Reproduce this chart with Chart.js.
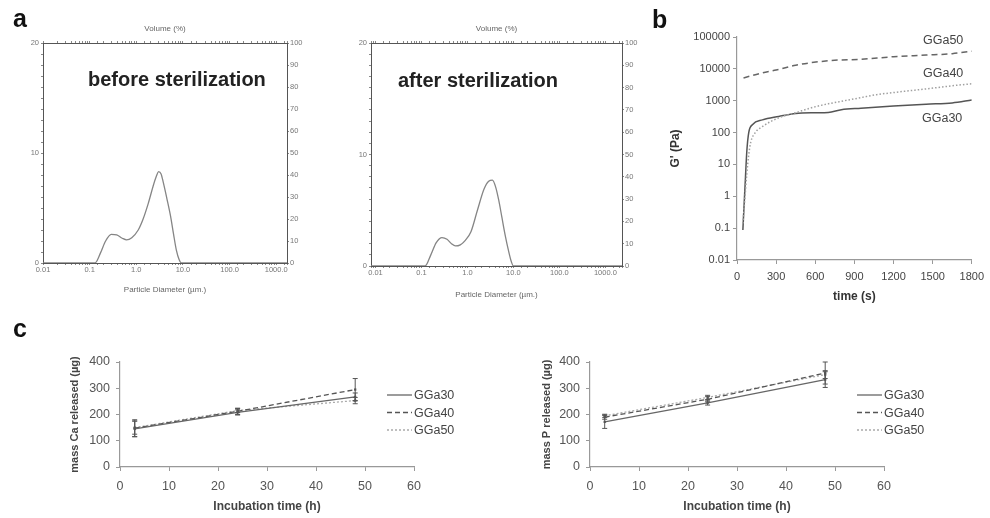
<!DOCTYPE html>
<html lang="en">
<head>
<meta charset="UTF-8">
<title>Gellan gum / glass composite - characterisation</title>
<script src="https://cdn.jsdelivr.net/npm/chart.js@4.4.0/dist/chart.umd.min.js"></script>
<style>
  body { margin: 0; background: #fff; font-family: 'Liberation Sans', Arial, sans-serif; }
  #fig { position: relative; width: 990px; height: 518px; overflow: hidden; background: #fff; }
  #fig canvas { position: absolute; }
  .lbl { position: absolute; white-space: nowrap; line-height: 1; }
  .panel { font-weight: bold; font-size: 25px; color: #111; }
  .note { font-weight: bold; font-size: 20px; color: #222; }
  .curve { font-size: 12.5px; color: #444; }
</style>
</head>
<body>
<div id="fig">
  <canvas id="psdBefore" width="330" height="310" style="left:0;top:0"></canvas>
  <canvas id="psdAfter" width="330" height="310" style="left:330px;top:0"></canvas>
  <canvas id="rheo" width="330" height="310" style="left:660px;top:0"></canvas>
  <canvas id="caRelease" width="480" height="188" style="left:0;top:330px"></canvas>
  <canvas id="pRelease" width="510" height="188" style="left:480px;top:330px"></canvas>

  <div class="lbl panel" style="left:13px;top:6px">a</div>
  <div class="lbl panel" style="left:652px;top:7px">b</div>
  <div class="lbl panel" style="left:13px;top:316px">c</div>
  <div class="lbl note" style="left:88px;top:69px">before sterilization</div>
  <div class="lbl note" style="left:398px;top:70px">after sterilization</div>
  <div class="lbl curve" style="left:923px;top:34px">GGa50</div>
  <div class="lbl curve" style="left:923px;top:67px">GGa40</div>
  <div class="lbl curve" style="left:922px;top:112px">GGa30</div>
</div>
<script>
// ---- panel a: particle size distribution ----
const diamBefore = [0.01, 0.05, 0.1, 0.13, 0.17, 0.22, 0.29, 0.38, 0.5, 0.62, 0.8, 1.1, 1.4, 1.8, 2.3, 2.7, 3.0, 3.4, 3.8, 4.5, 5.4, 6.3, 7.2, 8.3, 9.3, 20, 100, 1000, 1700];
const volBefore  = [0, 0, 0, 0, 0.9, 2.0, 2.6, 2.55, 2.25, 2.1, 2.3, 3.0, 4.0, 5.4, 7.0, 7.9, 8.3, 8.1, 7.3, 5.9, 4.3, 2.6, 1.2, 0.3, 0, 0, 0, 0, 0];
const diamAfter  = [0.008, 0.05, 0.1, 0.12, 0.16, 0.21, 0.28, 0.36, 0.45, 0.55, 0.7, 0.9, 1.2, 1.65, 2.3, 2.9, 3.5, 4.1, 4.8, 5.6, 6.6, 7.8, 9, 10, 20, 100, 1000, 2300];
const volAfter   = [0, 0, 0, 0, 1.0, 2.1, 2.55, 2.4, 2.0, 1.8, 1.9, 2.3, 3.1, 5.0, 6.9, 7.6, 7.7, 7.1, 5.9, 4.4, 2.8, 1.4, 0.4, 0, 0, 0, 0, 0];

// ---- panel b: G' vs time ----
const timeGGa30 = [45, 55, 65, 75, 90, 120, 195, 320, 450, 600, 700, 800, 950, 1200, 1450, 1650, 1800];
const gGGa30    = [0.087, 0.6, 4, 25, 100, 180, 250, 320, 400, 420, 430, 520, 580, 680, 780, 850, 1050];
const timeGGa40 = [45, 60, 75, 90, 105, 140, 195, 320, 450, 570, 700, 825, 950, 1070, 1200, 1320, 1450, 1575, 1700, 1800];
const gGGa40    = [0.14, 0.8, 5, 20, 49, 100, 155, 290, 420, 600, 800, 1000, 1250, 1550, 1800, 2050, 2350, 2700, 3100, 3400];
const timeGGa50 = [50, 195, 300, 450, 700, 945, 1200, 1450, 1650, 1800];
const gGGa50    = [5200, 7500, 9200, 13000, 18000, 20000, 24000, 27000, 30000, 36000];
const gTicks = [0.01, 0.1, 1, 10, 100, 1000, 10000, 100000];

// ---- panel c: ion release ----
const releaseTimes = [3, 24, 48];
const caGGa30 = [145, 208, 267];
const caGGa40 = [148, 212, 295];
const caGGa50 = [150, 215, 253];
const caErr30 = [30, 10, 15];
const caErr40 = [32, 12, 42];
const caErr50 = [25, 8, 12];
const pGGa30 = [172, 244, 333];
const pGGa40 = [190, 258, 358];
const pGGa50 = [195, 265, 352];
const pErr30 = [25, 8, 30];
const pErr40 = [8, 10, 42];
const pErr50 = [6, 8, 15];

const FONT = "'Liberation Sans', Arial, sans-serif";
const fixWidth = w => s => { s.width = w; };
const fixHeight = h => s => { s.height = h; };
const toPoints = (xs, ys) => xs.map((x, i) => ({ x: x, y: ys[i] }));
const isDecade = v => Math.abs(Math.log10(v) - Math.round(Math.log10(v))) < 1e-6;

function psdChart(id, diam, vol, box) {
  const small = { size: 7.5, family: FONT };
  const tickGrid = { drawOnChartArea: false, tickLength: 2, color: '#888' };
  const edge = { color: '#555', width: 1 };
  return new Chart(document.getElementById(id), {
    type: 'line',
    data: { datasets: [{ data: toPoints(diam, vol), borderColor: '#858585', borderWidth: 1.3,
      pointRadius: 0, cubicInterpolationMode: 'monotone', fill: false }] },
    options: {
      responsive: false, animation: false,
      layout: { padding: 0 },
      plugins: { legend: { display: false }, tooltip: { enabled: false } },
      scales: {
        x: { type: 'logarithmic', position: 'bottom', min: box.min, max: box.max,
          afterFit: fixHeight(box.bottom), border: edge, grid: tickGrid,
          ticks: { autoSkip: false, maxRotation: 0, padding: 0, font: small, color: '#777',
            callback: v => isDecade(v) && v >= 0.01 ? (v >= 1 ? v.toFixed(1) : String(v)) : '' },
          title: { display: true, text: 'Particle Diameter (µm.)', color: '#666',
            font: { size: 8, family: FONT }, padding: { top: 0, bottom: box.titlePad } } },
        x2: { type: 'logarithmic', position: 'top', min: box.min, max: box.max,
          afterFit: fixHeight(box.top), border: edge, grid: tickGrid,
          ticks: { display: false, autoSkip: false },
          title: { display: true, text: 'Volume (%)', color: '#666',
            font: { size: 8, family: FONT }, padding: { top: 24, bottom: 0 } } },
        y: { position: 'left', min: 0, max: 20, afterFit: fixWidth(box.left), border: edge, grid: tickGrid,
          ticks: { stepSize: 1, autoSkip: false, padding: 2, font: small, color: '#777',
            callback: v => v % 10 === 0 ? v : '' } },
        y2: { position: 'right', min: 0, max: 100, afterFit: fixWidth(box.right), border: edge, grid: tickGrid,
          ticks: { stepSize: 10, padding: 1, font: small, color: '#777' } }
      }
    }
  });
}

psdChart('psdBefore', diamBefore, volBefore, { min: 0.01, max: 1700, left: 43, right: 43, top: 43, bottom: 47, titlePad: 15 });
psdChart('psdAfter', diamAfter, volAfter, { min: 0.008, max: 2300, left: 41, right: 38, top: 43, bottom: 44, titlePad: 10 });

// ---- panel b ----
const axisTicks = { color: '#444', font: { size: 11, family: FONT } };
const axisGrid = { drawOnChartArea: false, tickLength: 4, color: '#999' };
const axisBorder = { color: '#999', width: 1.2 };

new Chart(document.getElementById('rheo'), {
  type: 'line',
  data: { datasets: [
    { label: 'GGa50', data: toPoints(timeGGa50, gGGa50), borderColor: '#666', borderWidth: 1.5, borderDash: [6, 4], pointRadius: 0, cubicInterpolationMode: 'monotone' },
    { label: 'GGa40', data: toPoints(timeGGa40, gGGa40), borderColor: '#a0a0a0', borderWidth: 1.5, borderDash: [1.5, 2], pointRadius: 0, cubicInterpolationMode: 'monotone' },
    { label: 'GGa30', data: toPoints(timeGGa30, gGGa30), borderColor: '#555', borderWidth: 1.5, pointRadius: 0, cubicInterpolationMode: 'monotone' }
  ] },
  options: {
    responsive: false, animation: false,
    layout: { padding: { top: 37, right: 13, left: 0, bottom: 0 } },
    plugins: { legend: { display: false }, tooltip: { enabled: false } },
    scales: {
      x: { type: 'linear', min: 0, max: 1800, afterFit: fixHeight(50), border: axisBorder, grid: axisGrid,
        ticks: Object.assign({ stepSize: 300, padding: 6, maxRotation: 0, callback: v => String(v) }, axisTicks),
        title: { display: true, text: 'time (s)', color: '#333', font: { size: 12, weight: 'bold', family: FONT }, padding: { top: 0, bottom: 6 } } },
      y: { type: 'logarithmic', min: 0.01, max: 100000, afterFit: fixWidth(77), border: axisBorder, grid: axisGrid,
        afterBuildTicks: s => { s.ticks = gTicks.map(v => ({ value: v })); },
        ticks: Object.assign({ padding: 3, callback: v => String(v) }, axisTicks),
        title: { display: true, text: "G' (Pa)", color: '#333', font: { size: 12, weight: 'bold', family: FONT }, padding: { top: 8, bottom: 0 } } }
    }
  }
});

// ---- panel c ----
const errorBars = {
  id: 'errorBars',
  afterDatasetsDraw(chart) {
    const { ctx, scales: { x, y } } = chart;
    ctx.save();
    ctx.strokeStyle = '#555';
    ctx.lineWidth = 1;
    chart.data.datasets.forEach(ds => {
      ds.data.forEach((p, i) => {
        const e = ds.err[i];
        const px = x.getPixelForValue(p.x);
        const top = y.getPixelForValue(p.y + e);
        const bot = y.getPixelForValue(p.y - e);
        ctx.beginPath();
        ctx.moveTo(px, top); ctx.lineTo(px, bot);
        ctx.moveTo(px - 2.5, top); ctx.lineTo(px + 2.5, top);
        ctx.moveTo(px - 2.5, bot); ctx.lineTo(px + 2.5, bot);
        ctx.stroke();
      });
    });
    ctx.restore();
  }
};

const sideLegend = {
  id: 'sideLegend',
  afterDraw(chart, args, opts) {
    const ctx = chart.ctx;
    chart.data.datasets.forEach((ds, i) => {
      const y = opts.y0 + i * opts.gap;
      ctx.save();
      ctx.strokeStyle = ds.borderColor;
      ctx.lineWidth = ds.borderWidth;
      ctx.setLineDash(ds.borderDash || []);
      ctx.beginPath();
      ctx.moveTo(opts.x0, y); ctx.lineTo(opts.x1, y);
      ctx.stroke();
      ctx.setLineDash([]);
      ctx.fillStyle = '#444';
      ctx.font = '12.5px ' + FONT;
      ctx.textBaseline = 'middle';
      ctx.fillText(ds.label, opts.x1 + 2, y + 1);
      ctx.restore();
    });
  }
};

function releaseChart(id, title, s30, s40, s50, e30, e40, e50, geo) {
  const line = (label, ys, err, color, dash) => ({
    label: label, data: toPoints(releaseTimes, ys), err: err,
    borderColor: color, borderWidth: 1.3, borderDash: dash,
    pointRadius: 1.6, pointStyle: 'rect', pointBackgroundColor: '#555', pointBorderWidth: 0
  });
  const cTicks = { color: '#555', font: { size: 12.5, family: FONT } };
  return new Chart(document.getElementById(id), {
    type: 'line',
    data: { datasets: [
      line('GGa30', s30, e30, '#666', []),
      line('GGa40', s40, e40, '#555', [5, 3]),
      line('GGa50', s50, e50, '#aaa', [2, 2])
    ] },
    options: {
      responsive: false, animation: false,
      layout: { padding: { top: 32, right: geo.right, left: 0, bottom: 0 } },
      plugins: { legend: { display: false }, tooltip: { enabled: false },
        sideLegend: { x0: geo.legX, x1: geo.legX + 25, y0: 65, gap: 17.5 } },
      scales: {
        x: { type: 'linear', min: 0, max: 60, afterFit: fixHeight(51), border: axisBorder, grid: axisGrid,
          ticks: Object.assign({ stepSize: 10, padding: 8, maxRotation: 0 }, cTicks),
          title: { display: true, text: 'Incubation time (h)', color: '#444', font: { size: 12, weight: 'bold', family: FONT }, padding: { top: 0, bottom: 4 } } },
        y: { min: 0, max: 400, afterFit: fixWidth(geo.left), border: axisBorder, grid: axisGrid,
          ticks: Object.assign({ stepSize: 100, padding: 6 }, cTicks),
          title: { display: true, text: title, color: '#444', font: { size: 11, weight: 'bold', family: FONT }, padding: { top: geo.titlePad, bottom: 0 } } }
      }
    },
    plugins: [errorBars, sideLegend]
  });
}

releaseChart('caRelease', 'mass Ca released (µg)', caGGa30, caGGa40, caGGa50, caErr30, caErr40, caErr50,
  { left: 120, right: 66, legX: 387, titlePad: 68 });
releaseChart('pRelease', 'mass P released (µg)', pGGa30, pGGa40, pGGa50, pErr30, pErr40, pErr50,
  { left: 110, right: 106, legX: 377, titlePad: 60 });
</script>
</body>
</html>
